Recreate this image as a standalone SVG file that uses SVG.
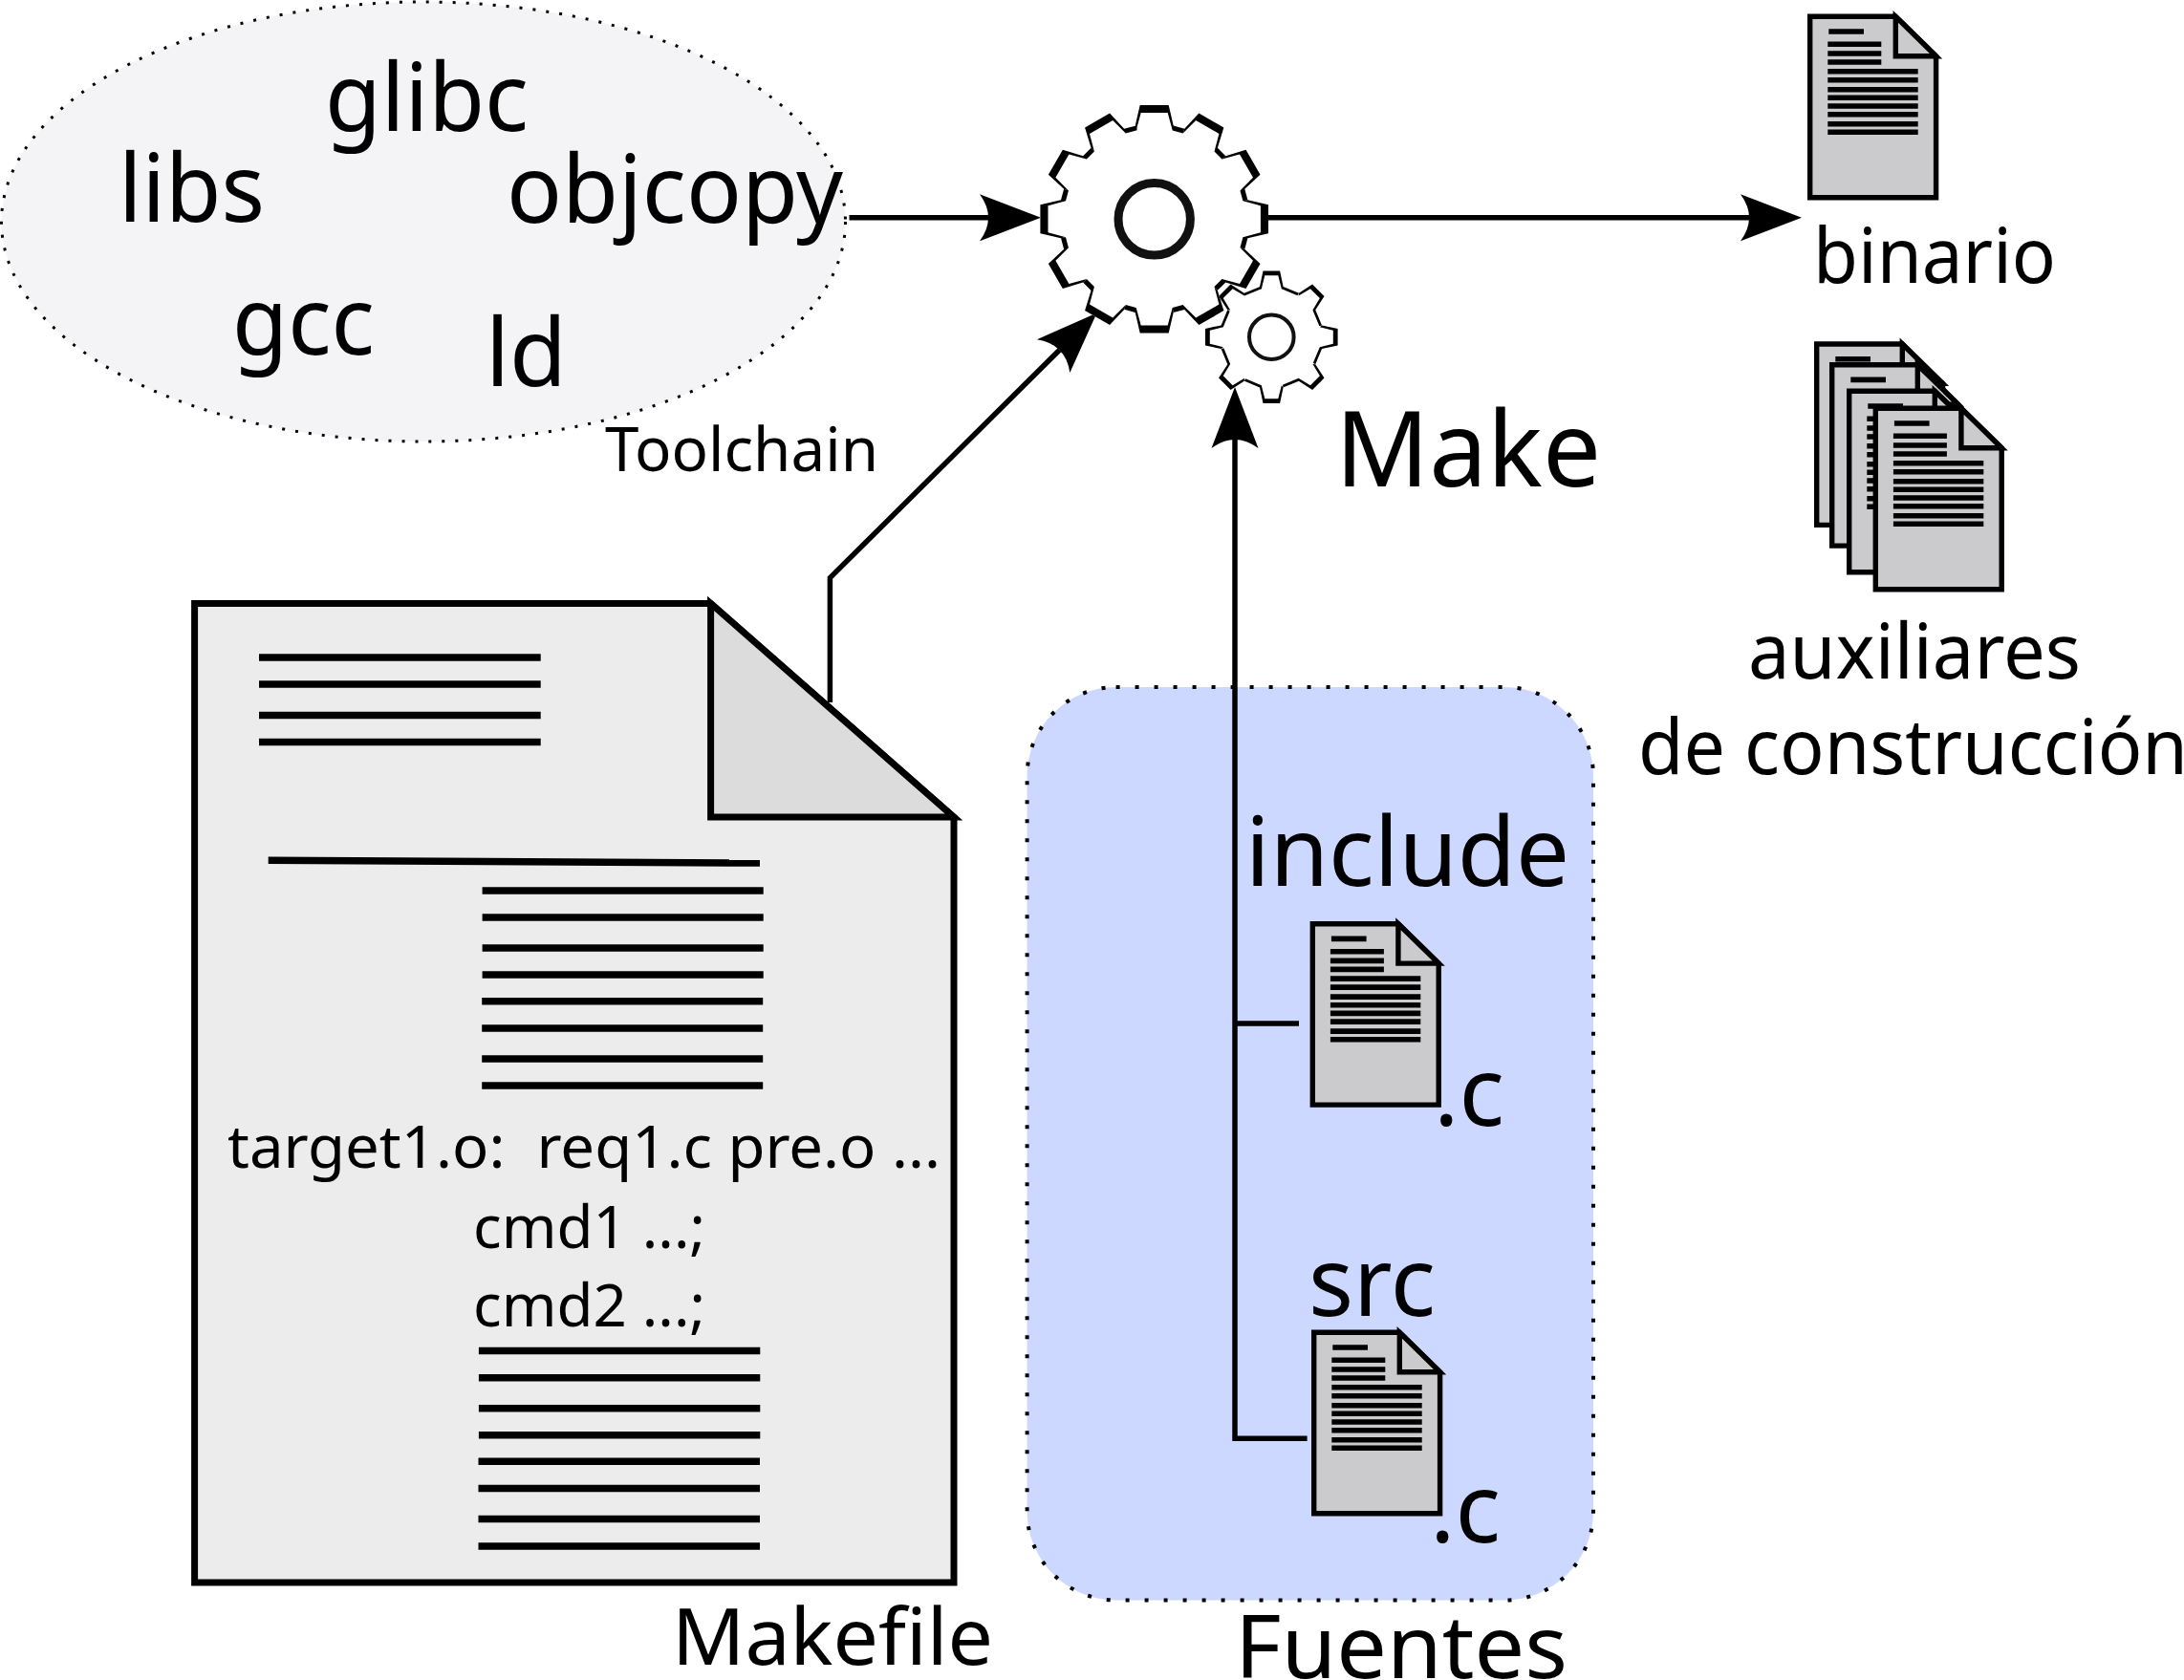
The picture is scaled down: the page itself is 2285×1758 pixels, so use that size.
<svg xmlns="http://www.w3.org/2000/svg" xmlns:xlink="http://www.w3.org/1999/xlink" width="2285" height="1758" viewBox="0 0 2285 1758">
<style>
text{font-family:"Noto Sans","Open Sans",sans-serif;fill:#000}
.conn{fill:none;stroke:#000;stroke-width:5.5}
.rule{fill:none;stroke:#000;stroke-width:7.5}
.page{fill:#cbcbcd;stroke:#000;stroke-width:5.4}
.plines{fill:none;stroke:#000;stroke-width:5.6}
.hub{fill:none;stroke:#111}
</style>
<defs>
<marker id="arrow" markerUnits="userSpaceOnUse" viewBox="-10 -26 66 52" refX="0" refY="0" markerWidth="66" markerHeight="52" orient="auto" overflow="visible">
<path d="M55,0L-9,-24.5Q9,0 -9,24.5Z" fill="#000"/>
</marker>
<g id="doc">
<path class="page" d="M0,0H89.6L131.9,41.4V189.4H0Z"/>
<path class="page" d="M89.6,0V41.4H131.9Z"/>
<path class="plines" d="M19.6,15.7H56.3M18.6,29H74.6M18.6,38.7H74.6M18.6,47.7H74.6M18.6,57.4H113M18.6,66.4H113M18.6,76.4H113M18.6,85H113M18.6,93.7H113M18.6,102.4H113M18.6,112.4H113M18.6,121H113"/>
</g>
<g id="bt">
<path fill="#fff" d="M0,0L-20,-97.7L-15,-119.3H15L20,-97.7L31.5,-94.6Z"/>
<path fill="#000" d="M-20,-97.7L-15,-119.3H15L20,-97.7L32.5,-94.3L30.9,-89.5L19,-92.7L14,-111.2H-14L-19,-92.7Z"/>
</g>
<g id="st">
<path fill="#fff" d="M0,0L-12.3,-52.7L-8.8,-69.3H8.8L12.3,-52.7L28.6,-46Z"/>
<path fill="#000" d="M-12.3,-52.7L-8.8,-69.3H8.8L12.3,-52.7L29.4,-45.6L28.9,-42.8L10.5,-50.5L7,-64.5H-7L-10.5,-50.5Z"/>
</g>
</defs>
<g id="toolchain">
<ellipse cx="443" cy="232" rx="441.5" ry="230" fill="#f4f4f7" stroke="#000" stroke-width="3" stroke-dasharray="3 11"/>
<text x="340" y="137.3" font-size="99" textLength="213" lengthAdjust="spacingAndGlyphs">glibc</text>
<text x="124" y="231.7" font-size="99" textLength="153" lengthAdjust="spacingAndGlyphs">libs</text>
<text x="530" y="233.3" font-size="99" textLength="352" lengthAdjust="spacingAndGlyphs">objcopy</text>
<text x="243" y="370.7" font-size="99" textLength="149" lengthAdjust="spacingAndGlyphs">gcc</text>
<text x="508" y="404" font-size="99" textLength="85" lengthAdjust="spacingAndGlyphs">ld</text>
<text x="633" y="492.7" font-size="64" textLength="286" lengthAdjust="spacingAndGlyphs">Toolchain</text>
</g>
<g id="fuentes">
<rect x="1074.6" y="719" width="592.4" height="955.5" rx="93" ry="93" fill="#ccd8ff" stroke="#000" stroke-width="4" stroke-dasharray="4 16"/>
<text x="1303" y="927.3" font-size="101" textLength="339" lengthAdjust="spacingAndGlyphs">include</text>
<text x="1369" y="1376.7" font-size="101" textLength="133" lengthAdjust="spacingAndGlyphs">src</text>
<text x="1292" y="1756" font-size="91" textLength="348" lengthAdjust="spacingAndGlyphs">Fuentes</text>
<g id="doc-include">
<use xlink:href="#doc" href="#doc" x="1373.3" y="966.7"/>
<text x="1500" y="1178.3" font-size="101" textLength="74" lengthAdjust="spacingAndGlyphs">.c</text>
</g>
<g id="doc-src">
<use xlink:href="#doc" href="#doc" x="1374.7" y="1394.3"/>
<text x="1496" y="1614" font-size="101" textLength="74" lengthAdjust="spacingAndGlyphs">.c</text>
</g>
</g>
<g id="makefile">
<path d="M203.6,631.4H743.6L998,855V1656H203.6Z" fill="#ececec" stroke="#000" stroke-width="7"/>
<path d="M743.6,631.4V855H998Z" fill="#dcdcdc" stroke="#000" stroke-width="7"/>
<path class="rule" d="M271,688H565.7M271,716H565.7M271,748.5H565.7M271,776.4H565.7"/>
<path class="rule" d="M280.7,900.3L795,903.1"/>
<path class="rule" d="M504.6,932H798.7M504.6,960H798.7M504.6,992H798.7M504.6,1020H798.7M504.2,1047.7H798.2M504.2,1076H798.2M504.2,1108H798.2M504.2,1136H798.2"/>
<path class="rule" d="M500.9,1413.4H795.3M500.9,1441.8H795.3M500.9,1473.7H795.3M500.9,1501.7H795.3M500.5,1529.3H795M500.5,1557.6H795M500.5,1589.6H795M500.5,1618H795"/>
<text xml:space="preserve" x="238" y="1222" font-size="62" textLength="746" lengthAdjust="spacingAndGlyphs">target1.o:  req1.c pre.o ...</text>
<text x="495" y="1305.5" font-size="62" textLength="243" lengthAdjust="spacingAndGlyphs">cmd1 ...;</text>
<text x="495" y="1388" font-size="62" textLength="243" lengthAdjust="spacingAndGlyphs">cmd2 ...;</text>
<text x="703" y="1742" font-size="82" textLength="336" lengthAdjust="spacingAndGlyphs">Makefile</text>
</g>
<g id="binario">
<use xlink:href="#doc" href="#doc" x="1893.7" y="17.3"/>
<text x="1897" y="295.9" font-size="80" textLength="254" lengthAdjust="spacingAndGlyphs">binario</text>
</g>
<g id="auxiliares">
<use xlink:href="#doc" href="#doc" x="1900.7" y="360"/>
<use xlink:href="#doc" href="#doc" x="1916.7" y="381.7"/>
<use xlink:href="#doc" href="#doc" x="1934.7" y="409.3"/>
<use xlink:href="#doc" href="#doc" x="1962.3" y="427.3"/>
<text x="1829" y="710" font-size="80" textLength="348" lengthAdjust="spacingAndGlyphs">auxiliares</text>
<text x="1714" y="810" font-size="80" textLength="575" lengthAdjust="spacingAndGlyphs">de construcción</text>
</g>
<g id="connectors">
<path class="conn" d="M888.5,227.7H1034" marker-end="url(#arrow)"/>
<path class="conn" d="M1326,227.7H1830" marker-end="url(#arrow)"/>
<path class="conn" d="M868.4,735V604.6L1108.5,366.3" marker-end="url(#arrow)"/>
<path class="conn" d="M1367.6,1505.3H1292V460" marker-end="url(#arrow)"/>
<path class="conn" d="M1292,1071H1359"/>
</g>
<g id="make">
<g id="gear-big" transform="translate(1207.7 229.3)">
<circle r="93" fill="#fff"/>
<use xlink:href="#bt" href="#bt"/>
<use xlink:href="#bt" href="#bt" transform="rotate(30)"/>
<use xlink:href="#bt" href="#bt" transform="rotate(60)"/>
<use xlink:href="#bt" href="#bt" transform="rotate(90)"/>
<use xlink:href="#bt" href="#bt" transform="rotate(120)"/>
<use xlink:href="#bt" href="#bt" transform="rotate(150)"/>
<use xlink:href="#bt" href="#bt" transform="rotate(180)"/>
<use xlink:href="#bt" href="#bt" transform="rotate(210)"/>
<use xlink:href="#bt" href="#bt" transform="rotate(240)"/>
<use xlink:href="#bt" href="#bt" transform="rotate(270)"/>
<use xlink:href="#bt" href="#bt" transform="rotate(300)"/>
<use xlink:href="#bt" href="#bt" transform="rotate(330)"/>
<circle class="hub" r="37.7" stroke-width="9"/>
</g>
<g id="gear-small" transform="translate(1330.3 352.7)">
<circle r="50" fill="#fff"/>
<use xlink:href="#st" href="#st"/>
<use xlink:href="#st" href="#st" transform="rotate(45)"/>
<use xlink:href="#st" href="#st" transform="rotate(90)"/>
<use xlink:href="#st" href="#st" transform="rotate(135)"/>
<use xlink:href="#st" href="#st" transform="rotate(180)"/>
<use xlink:href="#st" href="#st" transform="rotate(225)"/>
<use xlink:href="#st" href="#st" transform="rotate(270)"/>
<use xlink:href="#st" href="#st" transform="rotate(315)"/>
<circle class="hub" r="23.3" stroke-width="4"/>
</g>
<text x="1397" y="509.4" font-size="110" textLength="278" lengthAdjust="spacingAndGlyphs">Make</text>
</g>
</svg>
